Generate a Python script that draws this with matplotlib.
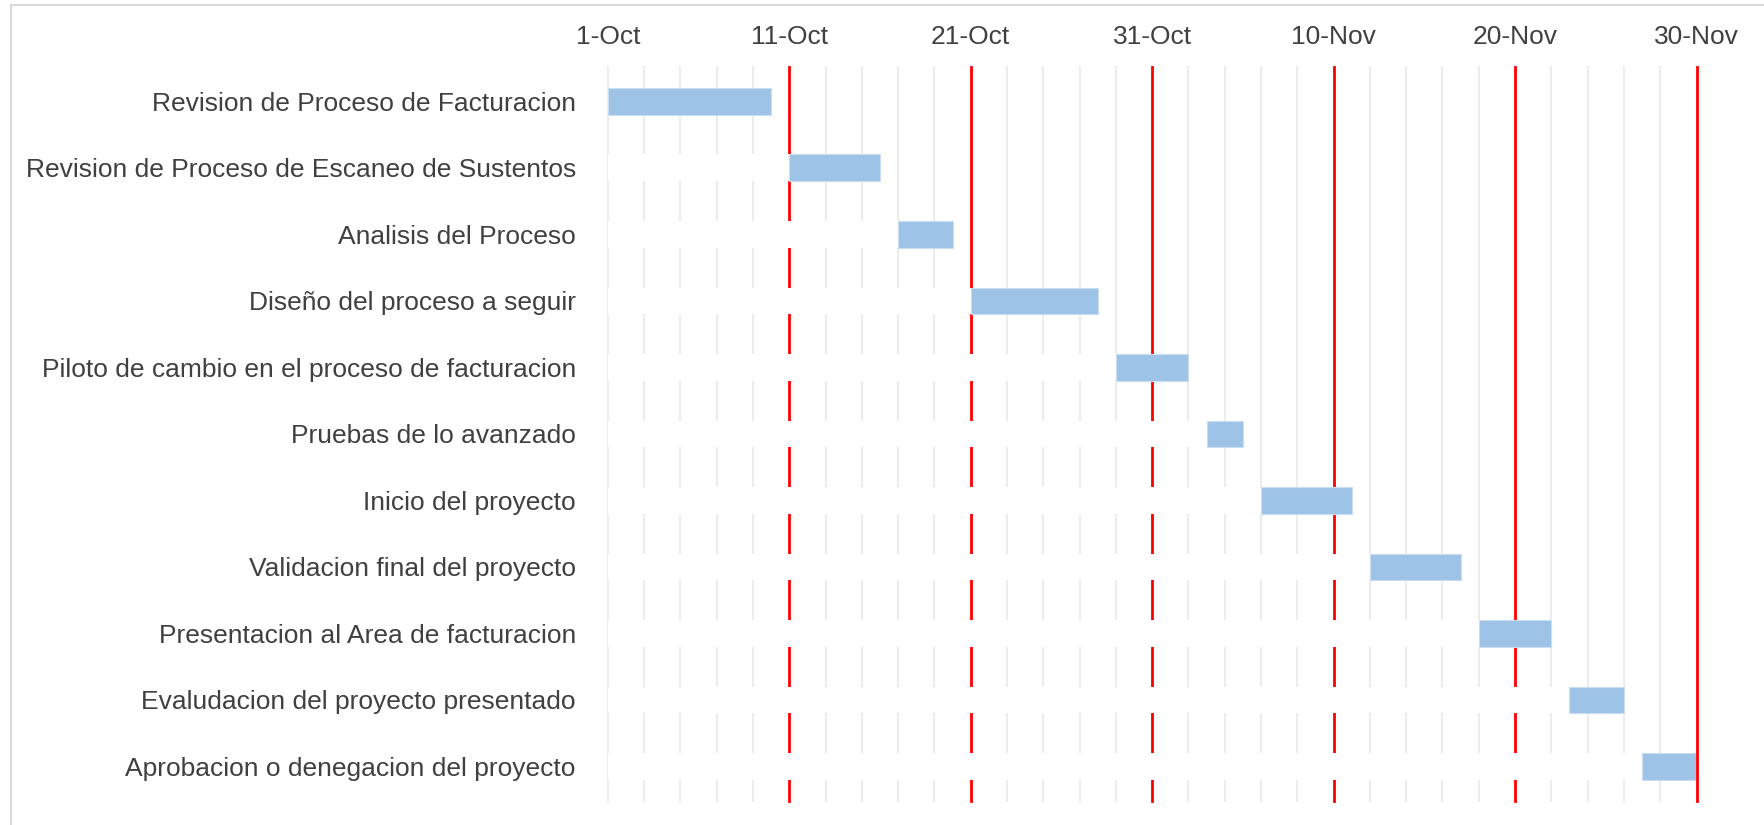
import datetime as dt
import matplotlib
matplotlib.use("Agg")
import matplotlib.pyplot as plt
import matplotlib.dates as mdates
from matplotlib.lines import Line2D
from matplotlib.ticker import FuncFormatter

plt.rcParams["font.family"] = ["Liberation Sans", "DejaVu Sans"]

# plan de trabajo
tareas = [
    "Revision de Proceso de Facturacion",
    "Revision de Proceso de Escaneo de Sustentos",
    "Analisis del Proceso",
    "Diseño del proceso a seguir",
    "Piloto de cambio en el proceso de facturacion",
    "Pruebas de lo avanzado",
    "Inicio del proyecto",
    "Validacion final del proyecto",
    "Presentacion al Area de facturacion",
    "Evaludacion del proyecto presentado",
    "Aprobacion o denegacion del proyecto",
]
inicio = [
    "2019-10-01", "2019-10-11", "2019-10-17", "2019-10-21", "2019-10-29",
    "2019-11-03", "2019-11-06", "2019-11-12", "2019-11-18", "2019-11-23",
    "2019-11-27",
]
duracion = [9, 5, 3, 7, 4, 2, 5, 5, 4, 3, 3]

eje_min = "2019-10-01"
eje_max = "2019-11-30"

TEXTO = "#404040"
AZUL = "#9dc3e6"

ini = [mdates.date2num(dt.date.fromisoformat(d)) for d in inicio]
x0 = mdates.date2num(dt.date.fromisoformat(eje_min))
x1 = mdates.date2num(dt.date.fromisoformat(eje_max))
ypos = list(range(len(tareas)))

fig = plt.figure(figsize=(17.65, 8.25), dpi=100)
ax = fig.add_axes([607.8 / 1765, 1 - 801 / 825, (1696.5 - 607.8) / 1765, (801 - 66.7) / 825])

# rejilla: menor cada 2 dias, mayor (roja) cada 10 dias
for k in range(0, int(round(x1 - x0)) + 1, 2):
    if k % 10 == 0 and k > 0:
        ax.axvline(x0 + k, color="#ff0000", lw=2, zorder=0.5, clip_on=False)
    else:
        ax.axvline(x0 + k, color="#ececec", lw=1.5, zorder=0.4, clip_on=False)

# serie de relleno blanco (desde el inicio del eje) + duracion
ax.barh(ypos, [s - x0 for s in ini], left=x0, height=0.4, color="white", zorder=1)
ax.barh(ypos, duracion, left=ini, height=0.4, color=AZUL,
        edgecolor="#c9def2", linewidth=0.8, zorder=2)

ax.set_xlim(x0, x1)
ax.set_ylim(len(tareas) - 0.48, -0.52)
ax.set_yticks(ypos)
ax.set_yticklabels(tareas)

ax.set_xticks([x0 + 10 * i for i in range(7)])
ax.xaxis.set_major_formatter(FuncFormatter(
    lambda v, _: "{}-{}".format(mdates.num2date(v).day, mdates.num2date(v).strftime("%b"))))
ax.xaxis.tick_top()

ax.tick_params(axis="x", length=0, pad=13, labelsize=19, labelcolor=TEXTO)
ax.tick_params(axis="y", length=0, pad=23, labelsize=19, labelcolor=TEXTO)
for s in ax.spines.values():
    s.set_visible(False)

# borde del area del grafico
fig.add_artist(Line2D([11 / 1765, 1], [1 - 5 / 825, 1 - 5 / 825], color="#d9d9d9", lw=1.5))
fig.add_artist(Line2D([11 / 1765, 11 / 1765], [0, 1 - 5 / 825], color="#d9d9d9", lw=1.5))

fig.savefig("out.png", dpi=100)
